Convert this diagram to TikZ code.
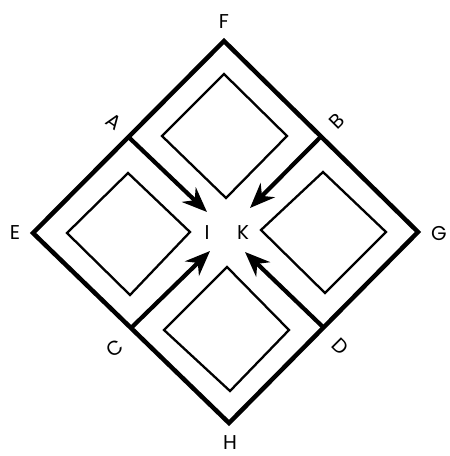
\documentclass[tikz,border=0pt]{standalone}
\usepackage{fontspec}
\setmainfont{Poppins}
\usetikzlibrary{arrows.meta,calc}
\begin{document}
\begin{tikzpicture}[x=1pt,y=-1pt,
  outer/.style={line width=4.5pt, line join=miter},
  inner/.style={line width=2.3pt, line join=miter},
  flow/.style={line width=4.2pt, -{Stealth[length=25pt,width=20pt,inset=8pt]}},
  lbl/.style={font=\fontsize{20}{20}\selectfont, inner sep=0pt}]
\useasboundingbox (0,0) rectangle (450,456);
% outer corners
\coordinate (F) at (224,41);
\coordinate (G) at (418,232);
\coordinate (H) at (229,423);
\coordinate (E) at (33,233);
\coordinate (A) at ($(F)!0.5!(E)$);
\coordinate (B) at ($(F)!0.5!(G)$);
\coordinate (C) at ($(E)!0.5!(H)$);
\coordinate (D) at ($(G)!0.5!(H)$);
\draw[outer] (F) -- (G) -- (H) -- (E) -- cycle;
% inner diamonds
\draw[inner] (224,74) -- (287,136) -- (226,198) -- (162,136) -- cycle;
\draw[inner] (128,173) -- (190,232) -- (130,295) -- (67,233) -- cycle;
\draw[inner] (323,172) -- (386,232) -- (325,293) -- (261,230) -- cycle;
\draw[inner] (227,267) -- (289,330) -- (230,391) -- (164,330) -- cycle;
% arrow tips
\coordinate (tA) at (207,212);
\coordinate (tB) at (250,208);
\coordinate (tC) at (210,251);
\coordinate (tD) at (245,252);
\draw[flow] (A) -- (tA);
\draw[flow] (B) -- (tB);
\draw[flow] (C) -- (tC);
\draw[flow] (D) -- (tD);
% labels
\node[lbl] (lF) at (224,22) {F};
\node[lbl] (lG) at (439,234) {G};
\node[lbl] (lH) at (230,443) {H};
\node[lbl] (lE) at (15,233) {E};
\node[lbl, rotate=-35] (lA) at (114,122) {A};
\node[lbl, rotate=45] (lB) at (337,121) {B};
\node[lbl, rotate=35] (lC) at (115,348) {C};
\node[lbl, rotate=-45] (lD) at (340,347) {D};
\node[lbl] (lI) at (207,233) {I};
\node[lbl] (lK) at (243,233) {K};
\end{tikzpicture}
\end{document}
